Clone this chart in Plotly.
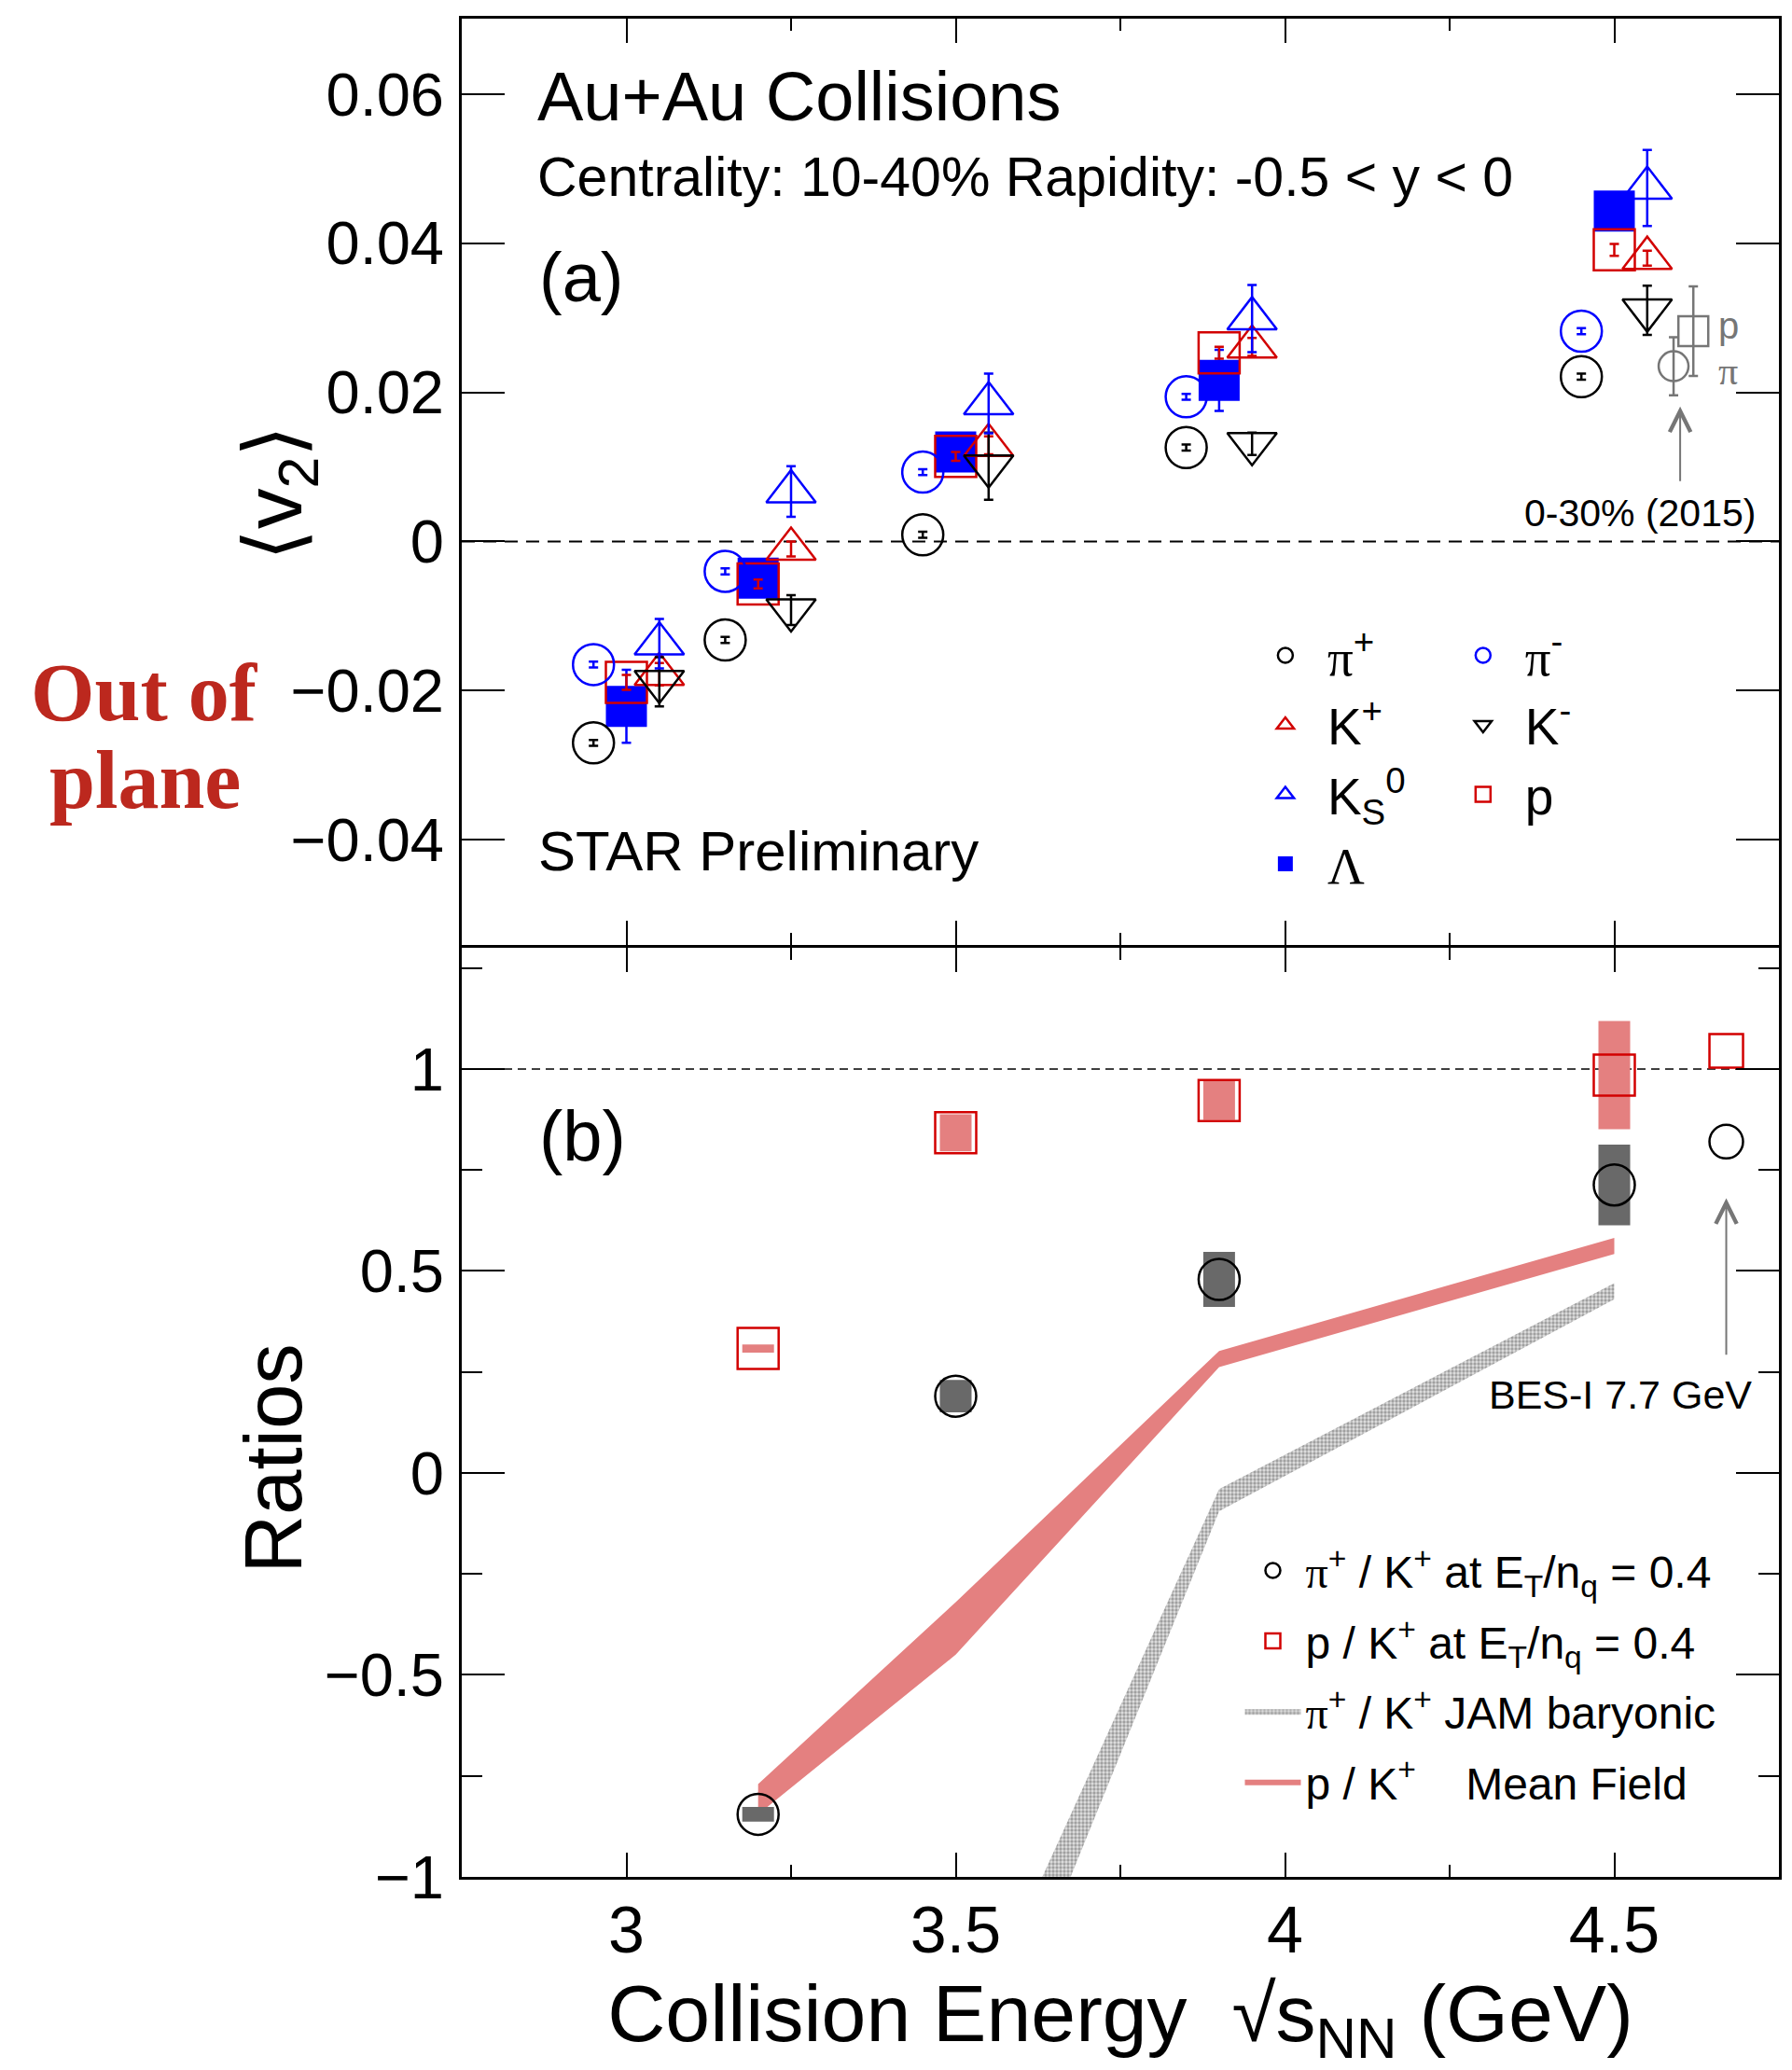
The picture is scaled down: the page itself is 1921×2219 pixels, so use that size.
import plotly.graph_objects as go

# ---------------- data ----------------
energies = [3.0, 3.2, 3.5, 3.9, 4.5]          # sqrt(s_NN) in GeV

v2_pi_plus  = [-0.0270, -0.0132, 0.0009, 0.0126, 0.0221]
v2_pi_minus = [-0.0165, -0.0040, 0.0093, 0.0194, 0.0282]
v2_k_plus   = [-0.0178, -0.0010, 0.0129, 0.0261, 0.0380]
v2_k_minus  = [-0.0188, -0.0092, 0.0101, 0.0131, 0.0310]
v2_k0s      = [-0.0137, 0.0067, 0.0185, 0.0299, 0.0474]
v2_proton   = [-0.0189, -0.0057, 0.0114, 0.0253, 0.0391]
v2_lambda   = [-0.0221, -0.0049, 0.0120, 0.0216, 0.0443]

err_pi_plus  = [0.0004, 0.0004, 0.0004, 0.0004, 0.0004]
err_pi_minus = [0.0004, 0.0004, 0.0004, 0.0004, 0.0004]
err_k_plus   = [0.0015, 0.0010, 0.0012, 0.0012, 0.0010]
err_k_minus  = [0.0033, 0.0020, 0.0045, 0.0015, 0.0033]
err_k0s      = [0.0033, 0.0034, 0.0040, 0.0045, 0.0051]
err_proton   = [0.0010, 0.0006, 0.0006, 0.0008, 0.0008]
err_lambda   = [0.0049, 0.0008, 0.0008, 0.0041, 0.0015]

# 0-30% (2015) measurement at 4.5 GeV
energy_2015   = [4.5]
v2_2015_pion  = [0.0235]
err_2015_pion = [0.0039]
v2_2015_prot  = [0.0282]
err_2015_prot = [0.0060]

# panel (b): ratios at E_T/n_q = 0.4
ratio_energies = [3.2, 3.5, 3.9, 4.5]
ratio_pi_k     = [-0.845, 0.190, 0.479, 0.713]
sys_pi_k       = [0.018, 0.040, 0.068, 0.100]
ratio_p_k      = [0.308, 0.842, 0.922, 0.985]
sys_p_k        = [0.010, 0.046, 0.048, 0.134]

# BES-I 7.7 GeV reference values
bes_pi_k = [0.820]
bes_p_k  = [1.045]

# model bands
mf_energies  = [3.2, 3.5, 3.9, 4.5]
mf_low       = [-0.845, -0.450, 0.262, 0.542]
mf_high      = [-0.770, -0.320, 0.302, 0.582]
jam_energies = [3.5, 3.9, 4.5]
jam_low      = [-1.700, -0.095, 0.430]
jam_high     = [-1.470, -0.040, 0.470]

# ---------------- style ----------------
SANS = "Liberation Sans, Arial, Helvetica, sans-serif"
SERIF = "Liberation Serif, Times New Roman, serif"
BLUE = "rgb(0,0,255)"
RED = "rgb(210,0,0)"
BLACK = "black"
GRAY = "rgb(118,118,118)"
DGRAY = "rgb(105,105,105)"
PINK = "rgb(228,128,128)"
OUT_RED = "rgb(188,40,30)"

DX_PION, DX_BARYON, DX_KAON = -0.05, 0.0, 0.05
DX_2015_PI, DX_2015_P = 0.09, 0.12
BES_POS = 4.67
MS = 44
MS_TRI = 46
LW = 2.5

def pi_txt():
    return "<span style='font-family:%s'>π</span>" % SERIF

def shifted(xs, d):
    return [x + d for x in xs]

fig = go.Figure()

def add_v2(name, y, err, dx, symbol, color, legend, rank, size=MS, filled=False):
    fig.add_trace(go.Scatter(
        x=shifted(energies, dx), y=y, mode="markers", name=name,
        marker=dict(symbol=symbol, size=size, color=color,
                    line=dict(color=color, width=0 if filled else LW)),
        error_y=dict(type="data", array=err, color=color, thickness=2.5, width=5),
        xaxis="x", yaxis="y", legend=legend, legendrank=rank, cliponaxis=False,
    ))

add_v2("<span style='font-family:%s'>Λ</span>" % SERIF, v2_lambda, err_lambda,
       DX_BARYON, "square", BLUE, "legend", 4, filled=True)
add_v2("p", v2_proton, err_proton, DX_BARYON, "square-open", RED, "legend2", 3)
add_v2(pi_txt() + "<sup>+</sup>", v2_pi_plus, err_pi_plus, DX_PION, "circle-open", BLACK, "legend", 1)
add_v2(pi_txt() + "<sup>-</sup>", v2_pi_minus, err_pi_minus, DX_PION, "circle-open", BLUE, "legend2", 1)
add_v2("K<sup>+</sup>", v2_k_plus, err_k_plus, DX_KAON, "triangle-up-open", RED, "legend", 2, size=MS_TRI)
add_v2("K<sup>-</sup>", v2_k_minus, err_k_minus, DX_KAON, "triangle-down-open", BLACK, "legend2", 2, size=MS_TRI)
add_v2("K<sub>S</sub><sup>0</sup>", v2_k0s, err_k0s, DX_KAON, "triangle-up-open", BLUE, "legend", 3, size=MS_TRI)

# 2015 points (gray)
fig.add_trace(go.Scatter(
    x=shifted(energy_2015, DX_2015_PI), y=v2_2015_pion, mode="markers", showlegend=False,
    marker=dict(symbol="circle-open", size=32, color=GRAY, line=dict(color=GRAY, width=2.5)),
    error_y=dict(type="data", array=err_2015_pion, color=GRAY, thickness=2.5, width=5),
    xaxis="x", yaxis="y"))
fig.add_trace(go.Scatter(
    x=shifted(energy_2015, DX_2015_P), y=v2_2015_prot, mode="markers", showlegend=False,
    marker=dict(symbol="square-open", size=32, color=GRAY, line=dict(color=GRAY, width=2.5)),
    error_y=dict(type="data", array=err_2015_prot, color=GRAY, thickness=2.5, width=5),
    xaxis="x", yaxis="y"))

# ---- panel (b) ----
fig.add_trace(go.Scatter(
    x=mf_energies + mf_energies[::-1], y=mf_high + mf_low[::-1],
    mode="lines", fill="toself", fillcolor=PINK, line=dict(width=0, color=PINK),
    name="p / K<sup>+</sup>\u00a0\u00a0\u00a0\u00a0Mean Field",
    xaxis="x2", yaxis="y2", legend="legend3", legendgroup="mf", legendrank=4,
    hoverinfo="skip"))
fig.add_trace(go.Scatter(
    x=jam_energies + jam_energies[::-1], y=jam_high + jam_low[::-1],
    mode="lines", fill="toself", fillcolor="rgb(215,215,215)",
    fillpattern=dict(shape=".", size=4, solidity=0.55, fgcolor="rgb(95,95,95)",
                     bgcolor="rgb(225,225,225)"),
    line=dict(width=0, color=BLUE),
    name=pi_txt() + "<sup>+</sup> / K<sup>+</sup> JAM baryonic",
    xaxis="x2", yaxis="y2", legend="legend3", legendgroup="jam", legendrank=3,
    hoverinfo="skip"))
fig.add_trace(go.Scatter(
    x=ratio_energies, y=ratio_pi_k, mode="markers",
    name=pi_txt() + "<sup>+</sup> / K<sup>+</sup> at E<sub>T</sub>/n<sub>q</sub> = 0.4",
    marker=dict(symbol="circle-open", size=MS, color=BLACK, line=dict(color=BLACK, width=LW)),
    error_y=dict(type="data", array=sys_pi_k, color=DGRAY, thickness=34, width=0),
    xaxis="x2", yaxis="y2", legend="legend3", legendgroup="pik", legendrank=1))
fig.add_trace(go.Scatter(
    x=ratio_energies, y=ratio_p_k, mode="markers",
    name="p / K<sup>+</sup> at E<sub>T</sub>/n<sub>q</sub> = 0.4",
    marker=dict(symbol="square-open", size=MS, color=RED, line=dict(color=RED, width=LW)),
    error_y=dict(type="data", array=sys_p_k, color=PINK, thickness=34, width=0),
    xaxis="x2", yaxis="y2", legend="legend3", legendgroup="pk", legendrank=2))
fig.add_trace(go.Scatter(
    x=[BES_POS] * len(bes_pi_k), y=bes_pi_k, mode="markers", showlegend=False,
    marker=dict(symbol="circle-open", size=36, color=BLACK, line=dict(color=BLACK, width=LW)),
    xaxis="x2", yaxis="y2"))
fig.add_trace(go.Scatter(
    x=[BES_POS] * len(bes_p_k), y=bes_p_k, mode="markers", showlegend=False,
    marker=dict(symbol="square-open", size=36, color=RED, line=dict(color=RED, width=LW)),
    xaxis="x2", yaxis="y2"))

# ---------------- axes ----------------
common_x = dict(range=[2.75, 4.75], tick0=3, dtick=0.5, ticks="inside", ticklen=26,
                tickwidth=2, tickcolor=BLACK, showline=True, linewidth=3, linecolor=BLACK,
                mirror="allticks", showgrid=False, zeroline=False,
                minor=dict(dtick=0.25, ticks="inside", ticklen=13, tickwidth=2,
                           tickcolor=BLACK, showgrid=False))
fig.update_layout(
    xaxis=dict(domain=[0, 1], anchor="y", showticklabels=False, **common_x),
    xaxis2=dict(domain=[0, 1], anchor="y2", showticklabels=True,
                tickfont=dict(family=SANS, size=70, color=BLACK), ticklabelstandoff=-6,
                title=dict(text="Collision Energy  √s<sub>NN</sub> (GeV)",
                           font=dict(family=SANS, size=86, color=BLACK), standoff=40),
                **common_x),
    yaxis=dict(domain=[0.5015, 1], anchor="x", range=[-0.0541, 0.0701], tick0=0, dtick=0.02,
               ticks="inside", ticklen=46, tickwidth=2, tickcolor=BLACK,
               showline=True, linewidth=3, linecolor=BLACK, mirror="allticks",
               showgrid=False, zeroline=False,
               tickfont=dict(family=SANS, size=65, color=BLACK), ticklabelstandoff=3),
    yaxis2=dict(domain=[0, 0.5], anchor="x2", range=[-1.0, 1.30], tick0=0, dtick=0.5,
                ticks="inside", ticklen=46, tickwidth=2, tickcolor=BLACK,
                showline=True, linewidth=3, linecolor=BLACK, mirror="allticks",
                showgrid=False, zeroline=False,
                minor=dict(dtick=0.25, ticks="inside", ticklen=22, tickwidth=2,
                           tickcolor=BLACK, showgrid=False),
                tickfont=dict(family=SANS, size=65, color=BLACK), ticklabelstandoff=3),
)

# reference lines
fig.add_shape(type="line", xref="x domain", yref="y", x0=0, x1=1, y0=0, y1=0,
              line=dict(color=BLACK, width=2, dash="14px,9px"), layer="below")
fig.add_shape(type="line", xref="x2 domain", yref="y2", x0=0, x1=1, y0=1, y1=1,
              line=dict(color=BLACK, width=1.5, dash="9px,6px"), layer="below")

# ---------------- legends ----------------
leg_common = dict(bgcolor="rgba(0,0,0,0)", borderwidth=0, xanchor="left", yanchor="top",
                  orientation="v", itemsizing="trace")
fig.update_layout(
    showlegend=True,
    legend=dict(x=0.5934, y=0.6786, font=dict(family=SANS, size=55, color=BLACK),
                itemwidth=80, traceorder="normal", **leg_common),
    legend2=dict(x=0.7435, y=0.6786, font=dict(family=SANS, size=55, color=BLACK),
                 itemwidth=80, traceorder="normal", **leg_common),
    legend3=dict(x=0.591, y=0.1838, font=dict(family=SANS, size=48, color=BLACK),
                 itemwidth=60, traceorder="grouped", tracegroupgap=10, **leg_common),
)

# ---------------- annotations ----------------
ann = []
def txt(text, x, y, xref, yref, size, xanchor="left", color=BLACK, family=SANS,
        yanchor="middle", angle=0):
    ann.append(dict(text=text, x=x, y=y, xref=xref, yref=yref, showarrow=False,
                    xanchor=xanchor, yanchor=yanchor, textangle=angle,
                    font=dict(family=family, size=size, color=color)))

# axis titles of the two y axes (rotated)
txt("⟨v<sub>2</sub>⟩", -0.139, 0.7449, "paper", "paper", 87, xanchor="center", angle=-90)
txt("Ratios", -0.1435, 0.2252, "paper", "paper", 87, xanchor="center", angle=-90)

txt("Au+Au Collisions", 0.0556, 0.9155, "x domain", "y domain", 74)
txt("Centrality: 10-40% Rapidity: -0.5 &lt; y &lt; 0", 0.0556, 0.829, "x domain", "y domain", 59)
txt("(a)", 0.0577, 0.7207, "x domain", "y domain", 74)
txt("STAR Preliminary", 0.057, 0.1014, "x domain", "y domain", 60)
txt("(b)", 0.0577, 0.798, "x2 domain", "y2 domain", 76)
txt("0-30% (2015)", 4.717, 0.0038, "x", "y", 41, xanchor="right")
txt("BES-I 7.7 GeV", 4.712, 0.193, "x2", "y2", 43, xanchor="right")
txt("p", 4.655, 0.0290, "x", "y", 40, color=GRAY)
txt("π", 4.655, 0.0228, "x", "y", 42, color=GRAY, family=SERIF)
txt("<b>Out of</b>", -0.2405, 0.6374, "paper", "paper", 88, xanchor="center", color=OUT_RED, family=SERIF)
txt("<b>plane</b>", -0.2405, 0.5902, "paper", "paper", 88, xanchor="center", color=OUT_RED, family=SERIF)

# arrows
ann.append(dict(text="", x=4.60, y=0.0181, ax=4.60, ay=0.0079, xref="x", yref="y",
                axref="x", ayref="y", showarrow=True, arrowhead=5, arrowsize=2.2,
                arrowwidth=2, arrowcolor=GRAY))
ann.append(dict(text="", x=BES_POS, y=0.680, ax=BES_POS, ay=0.289, xref="x2", yref="y2",
                axref="x2", ayref="y2", showarrow=True, arrowhead=5, arrowsize=2.2,
                arrowwidth=2, arrowcolor=GRAY))

fig.update_layout(
    annotations=ann,
    width=1921, height=2219,
    margin=dict(l=495, r=14, t=20, b=207, autoexpand=False),
    paper_bgcolor="white", plot_bgcolor="white",
    font=dict(family=SANS, color=BLACK),
)

fig.write_html("out.html")
